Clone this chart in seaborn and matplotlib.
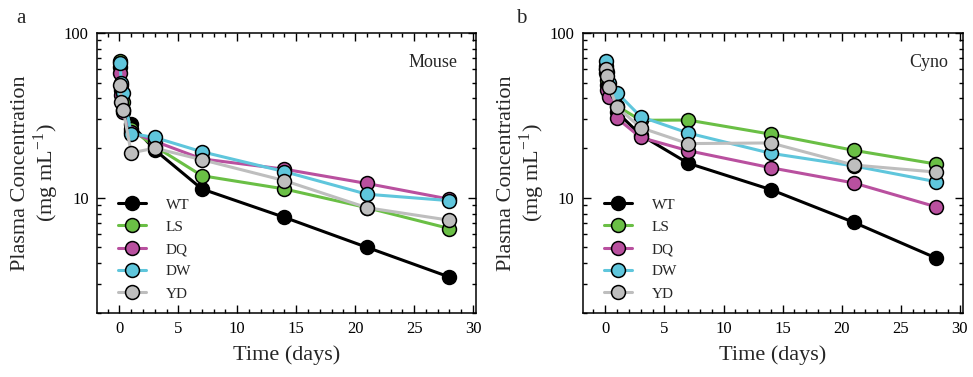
import matplotlib
matplotlib.use("Agg")
import matplotlib.pyplot as plt
import matplotlib.ticker as mticker
import seaborn as sns
import pandas as pd

# DATA
variants = ["WT", "LS", "DQ", "DW", "YD"]
colors = ["#000000", "#6abf45", "#b9509f", "#5fc6dc", "#bebebe"]
time_days = [0.04, 0.17, 0.33, 1, 3, 7, 14, 21, 28]

mouse_wt = [62, 45, 34, 28, 19.5, 11.3, 7.6, 5.0, 3.3]
mouse_ls = [68, 48, 38, 26, 20.5, 13.6, 11.3, 8.7, 6.5]
mouse_dq = [57, 42, 33, 25, 22, 17.2, 14.9, 12.2, 9.8]
mouse_dw = [66, 50, 43, 24.5, 23.2, 19.0, 14.4, 10.5, 9.6]
mouse_yd = [48, 38, 34, 18.7, 20.0, 17.0, 12.7, 8.7, 7.3]

cyno_wt = [60, 48, 42, 33, 24, 16.2, 11.2, 7.1, 4.3]
cyno_ls = [63, 52, 44, 36, 29.5, 29.6, 24.3, 19.4, 16.0]
cyno_dq = [57, 45, 41, 30.3, 23.2, 19.3, 15.2, 12.3, 8.8]
cyno_dw = [67.5, 58, 50, 43.3, 31, 24.7, 18.6, 15.6, 12.5]
cyno_yd = [60, 55, 47, 35.4, 26.6, 21.3, 21.5, 15.8, 14.3]

panels = [
    ("a", "Mouse", [mouse_wt, mouse_ls, mouse_dq, mouse_dw, mouse_yd]),
    ("b", "Cyno", [cyno_wt, cyno_ls, cyno_dq, cyno_dw, cyno_yd]),
]


def make_df(series):
    rows = []
    for name, vals in zip(variants, series):
        for t, v in zip(time_days, vals):
            rows.append({"Time": t, "Conc": v, "Variant": name})
    return pd.DataFrame(rows)


sns.set_style("ticks")
plt.rcParams["font.family"] = ["Liberation Serif", "DejaVu Serif"]
plt.rcParams["mathtext.fontset"] = "stix"

fig = plt.figure(figsize=(9.73, 3.77), dpi=100)
ax_pos = [[0.0997, 0.170, 0.3895, 0.7427], [0.599, 0.170, 0.3906, 0.7427]]
label_x = [0.017, 0.530]
name_x = [0.9525, 0.96]

for i, (letter, species, series) in enumerate(panels):
    ax = fig.add_axes(ax_pos[i])
    df = make_df(series)
    sns.lineplot(data=df, x="Time", y="Conc", hue="Variant", hue_order=variants,
                 palette=colors, marker="o", markersize=10, markeredgecolor="black",
                 markeredgewidth=1.1, linewidth=2.2, estimator=None, ax=ax)

    ax.set_yscale("log")
    ax.set_ylim(2, 100)
    ax.set_xlim(-1.9, 30.25)
    ax.xaxis.set_major_locator(mticker.MultipleLocator(5))
    ax.xaxis.set_minor_locator(mticker.MultipleLocator(1))
    ax.yaxis.set_major_locator(mticker.LogLocator(base=10))
    ax.yaxis.set_minor_locator(mticker.LogLocator(base=10, subs=range(2, 10)))
    ax.yaxis.set_major_formatter(mticker.FuncFormatter(lambda v, p: f"{v:g}"))
    ax.yaxis.set_minor_formatter(mticker.NullFormatter())
    ax.tick_params(which="both", direction="in", top=True, right=True,
                   colors="black", labelsize=12, width=1)
    ax.tick_params(which="major", length=6, pad=6)
    ax.tick_params(which="minor", length=3)
    for sp in ax.spines.values():
        sp.set_linewidth(1.1)
        sp.set_color("black")

    ax.set_xlabel("Time (days)", fontsize=16, labelpad=6)
    ax.set_ylabel("Plasma Concentration\n(mg mL$^{\\mathregular{-1}}$)", fontsize=16,
                  labelpad=2, linespacing=1.1)

    leg = ax.get_legend()
    handles = leg.legend_handles
    labels = [t.get_text() for t in leg.get_texts()]
    ax.legend(handles, labels, loc="lower left", bbox_to_anchor=(0.02, -0.005),
              frameon=False, fontsize=11, handlelength=1.8, handletextpad=1.3,
              labelspacing=0.56)

    ax.text(name_x[i], 0.896, species, transform=ax.transAxes, ha="right",
            va="center", fontsize=13)
    fig.text(label_x[i], 0.952, letter, fontsize=15, ha="left", va="center")

fig.savefig("out.png", dpi=100)
